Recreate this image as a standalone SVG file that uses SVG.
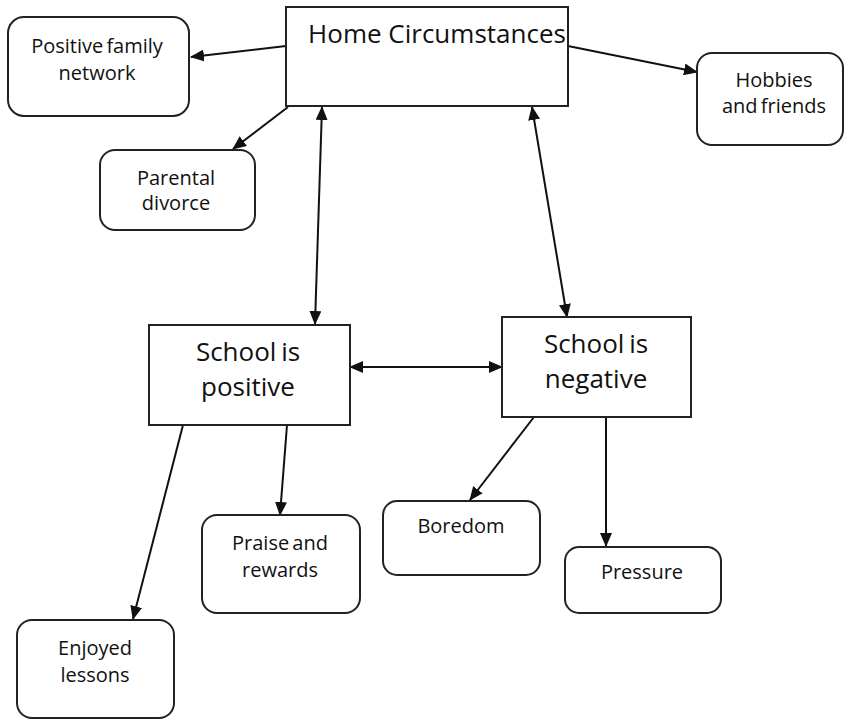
<svg xmlns="http://www.w3.org/2000/svg" width="845" height="720" viewBox="0 0 845 720">
<defs>
<marker id="arr" markerUnits="userSpaceOnUse" markerWidth="14" markerHeight="12" refX="13" refY="6" orient="auto-start-reverse" viewBox="0 0 14 12">
<path d="M0,0 L14,6 L0,12 Z" fill="#111"/>
</marker>
</defs>
<style>
.box{fill:#fff;stroke:#222;stroke-width:2}
.lbl{font-family:"Open Sans","Liberation Sans",sans-serif;font-size:20px;fill:#111;text-anchor:middle;word-spacing:-2px}
.big{font-family:"Open Sans","Liberation Sans",sans-serif;font-size:26px;fill:#111;text-anchor:middle}
.big2{font-family:"Open Sans","Liberation Sans",sans-serif;font-size:26px;fill:#111;text-anchor:middle;word-spacing:-2px}
.c{fill:none;stroke:#111;stroke-width:2;marker-end:url(#arr)}
.d{marker-start:url(#arr)}
</style>
<rect width="845" height="720" fill="#fff"/>
<g id="connectors">
<line class="c" x1="286" y1="46" x2="191" y2="57"/>
<line class="c" x1="288" y1="107" x2="233" y2="149"/>
<line class="c" x1="568" y1="46" x2="697" y2="72"/>
<line class="c d" x1="322" y1="107" x2="315" y2="324"/>
<line class="c d" x1="532" y1="107" x2="567" y2="317"/>
<line class="c d" x1="350" y1="367" x2="502" y2="367"/>
<line class="c" x1="183" y1="425" x2="133" y2="619"/>
<line class="c" x1="287" y1="425" x2="280" y2="515"/>
<line class="c" x1="534" y1="417" x2="470" y2="500"/>
<line class="c" x1="606" y1="417" x2="606" y2="546"/>
</g>
<g id="home">
<rect class="box" x="286" y="7" width="282" height="99"/>
<text class="big" x="437" y="43">Home Circumstances</text>
</g>
<g id="family">
<rect class="box" x="8" y="17" width="181" height="99" rx="16"/>
<text class="lbl" x="97" y="53">Positive family</text>
<text class="lbl" x="97" y="80">network</text>
</g>
<g id="divorce">
<rect class="box" x="100" y="150" width="155" height="80" rx="15"/>
<text class="lbl" x="176" y="185">Parental</text>
<text class="lbl" x="176" y="210">divorce</text>
</g>
<g id="hobbies">
<rect class="box" x="697" y="53" width="146" height="92" rx="15"/>
<text class="lbl" x="774" y="87">Hobbies</text>
<text class="lbl" x="774" y="113">and friends</text>
</g>
<g id="school-positive">
<rect class="box" x="149" y="325" width="201" height="100"/>
<text class="big2" x="248" y="361">School is</text>
<text class="big2" x="248" y="396">positive</text>
</g>
<g id="school-negative">
<rect class="box" x="502" y="317" width="189" height="100"/>
<text class="big2" x="596" y="353">School is</text>
<text class="big2" x="596" y="388">negative</text>
</g>
<g id="praise">
<rect class="box" x="202" y="515" width="158" height="98" rx="15"/>
<text class="lbl" x="280" y="550">Praise and</text>
<text class="lbl" x="280" y="577">rewards</text>
</g>
<g id="enjoyed">
<rect class="box" x="17" y="620" width="157" height="98" rx="15"/>
<text class="lbl" x="95" y="655">Enjoyed</text>
<text class="lbl" x="95" y="682">lessons</text>
</g>
<g id="boredom">
<rect class="box" x="383" y="501" width="157" height="74" rx="14"/>
<text class="lbl" x="461" y="533">Boredom</text>
</g>
<g id="pressure">
<rect class="box" x="565" y="547" width="156" height="66" rx="14"/>
<text class="lbl" x="642" y="579">Pressure</text>
</g>
</svg>
